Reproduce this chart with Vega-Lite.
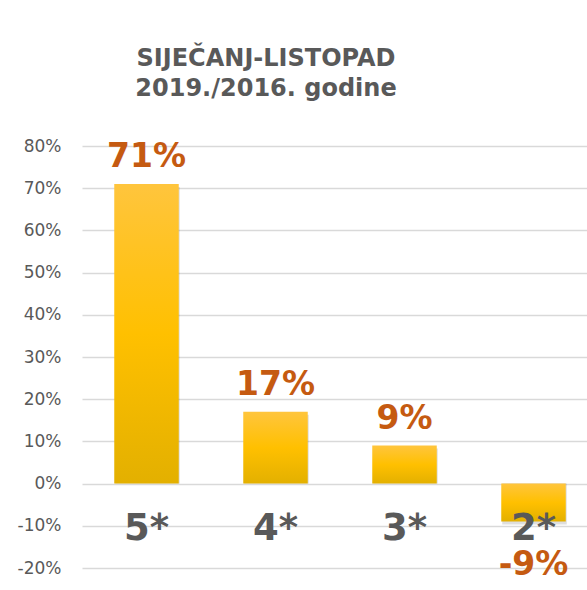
{
  "$schema": "https://vega.github.io/schema/vega-lite/v6.json",
  "autosize": {"type": "none"},
  "width": 516,
  "height": 422,
  "padding": {"left": 82, "top": 146, "right": 0, "bottom": 22},
  "background": "white",
  "config": {
    "locale": {"number": {"decimal": ".", "thousands": ",", "grouping": [3], "currency": ["", ""], "minus": "-"}},
    "view": {"stroke": null}
  },
  "title": {
    "text": ["SIJEČANJ-LISTOPAD", "2019./2016. godine"],
    "font": "DejaVu Sans",
    "fontSize": 24,
    "fontWeight": "bold",
    "color": "#595959",
    "anchor": "middle",
    "frame": "group",
    "dx": -74,
    "offset": 36,
    "lineHeight": 30
  },
  "data": {
    "values": [
      {"kategorija": "5*", "promjena": 0.71},
      {"kategorija": "4*", "promjena": 0.17},
      {"kategorija": "3*", "promjena": 0.09},
      {"kategorija": "2*", "promjena": -0.09}
    ]
  },
  "encoding": {
    "x": {
      "field": "kategorija",
      "type": "nominal",
      "sort": null,
      "scale": {"paddingInner": 0.5, "paddingOuter": 0.25},
      "axis": null
    }
  },
  "layer": [
    {
      "mark": {"type": "bar", "color": "#000000", "opacity": 0.13, "yOffset": 3, "xOffset": 1},
      "encoding": {
        "y": {
          "field": "promjena",
          "type": "quantitative",
          "scale": {"domain": [-0.2, 0.8], "nice": false},
          "axis": {
            "title": null,
            "values": [-0.2, -0.1, 0, 0.1, 0.2, 0.3, 0.4, 0.5, 0.6, 0.7, 0.8],
            "format": ".0%",
            "labelFont": "DejaVu Sans",
            "labelFontSize": 17,
            "labelColor": "#595959",
            "labelPadding": 21,
            "domain": false,
            "ticks": false,
            "grid": true,
            "gridColor": "#d9d9d9",
            "gridWidth": 1.5
          }
        },
        "y2": {"datum": 0}
      }
    },
    {
      "mark": {
        "type": "bar",
        "color": {
          "gradient": "linear",
          "x1": 0, "y1": 0, "x2": 0, "y2": 1,
          "stops": [
            {"offset": 0, "color": "#FFC53D"},
            {"offset": 0.5, "color": "#FFC000"},
            {"offset": 1, "color": "#E3B000"}
          ]
        }
      },
      "encoding": {
        "y": {"field": "promjena", "type": "quantitative"},
        "y2": {"datum": 0}
      }
    },
    {
      "transform": [{"filter": "datum.promjena >= 0"}],
      "mark": {"type": "text", "baseline": "alphabetic", "dy": -17, "font": "DejaVu Sans", "fontSize": 33, "fontWeight": "bold", "color": "#C55A11"},
      "encoding": {
        "y": {"field": "promjena", "type": "quantitative"},
        "text": {"field": "promjena", "type": "quantitative", "format": ".0%"}
      }
    },
    {
      "transform": [{"filter": "datum.promjena < 0"}],
      "mark": {"type": "text", "baseline": "top", "dy": 27, "font": "DejaVu Sans", "fontSize": 33, "fontWeight": "bold", "color": "#C55A11"},
      "encoding": {
        "y": {"field": "promjena", "type": "quantitative"},
        "text": {"field": "promjena", "type": "quantitative", "format": ".0%"}
      }
    },
    {
      "mark": {"type": "text", "baseline": "middle", "dy": 45, "font": "DejaVu Sans", "fontSize": 37, "fontWeight": "bold", "color": "#595959"},
      "encoding": {
        "y": {"datum": 0, "type": "quantitative"},
        "text": {"field": "kategorija", "type": "nominal"}
      }
    }
  ]
}
